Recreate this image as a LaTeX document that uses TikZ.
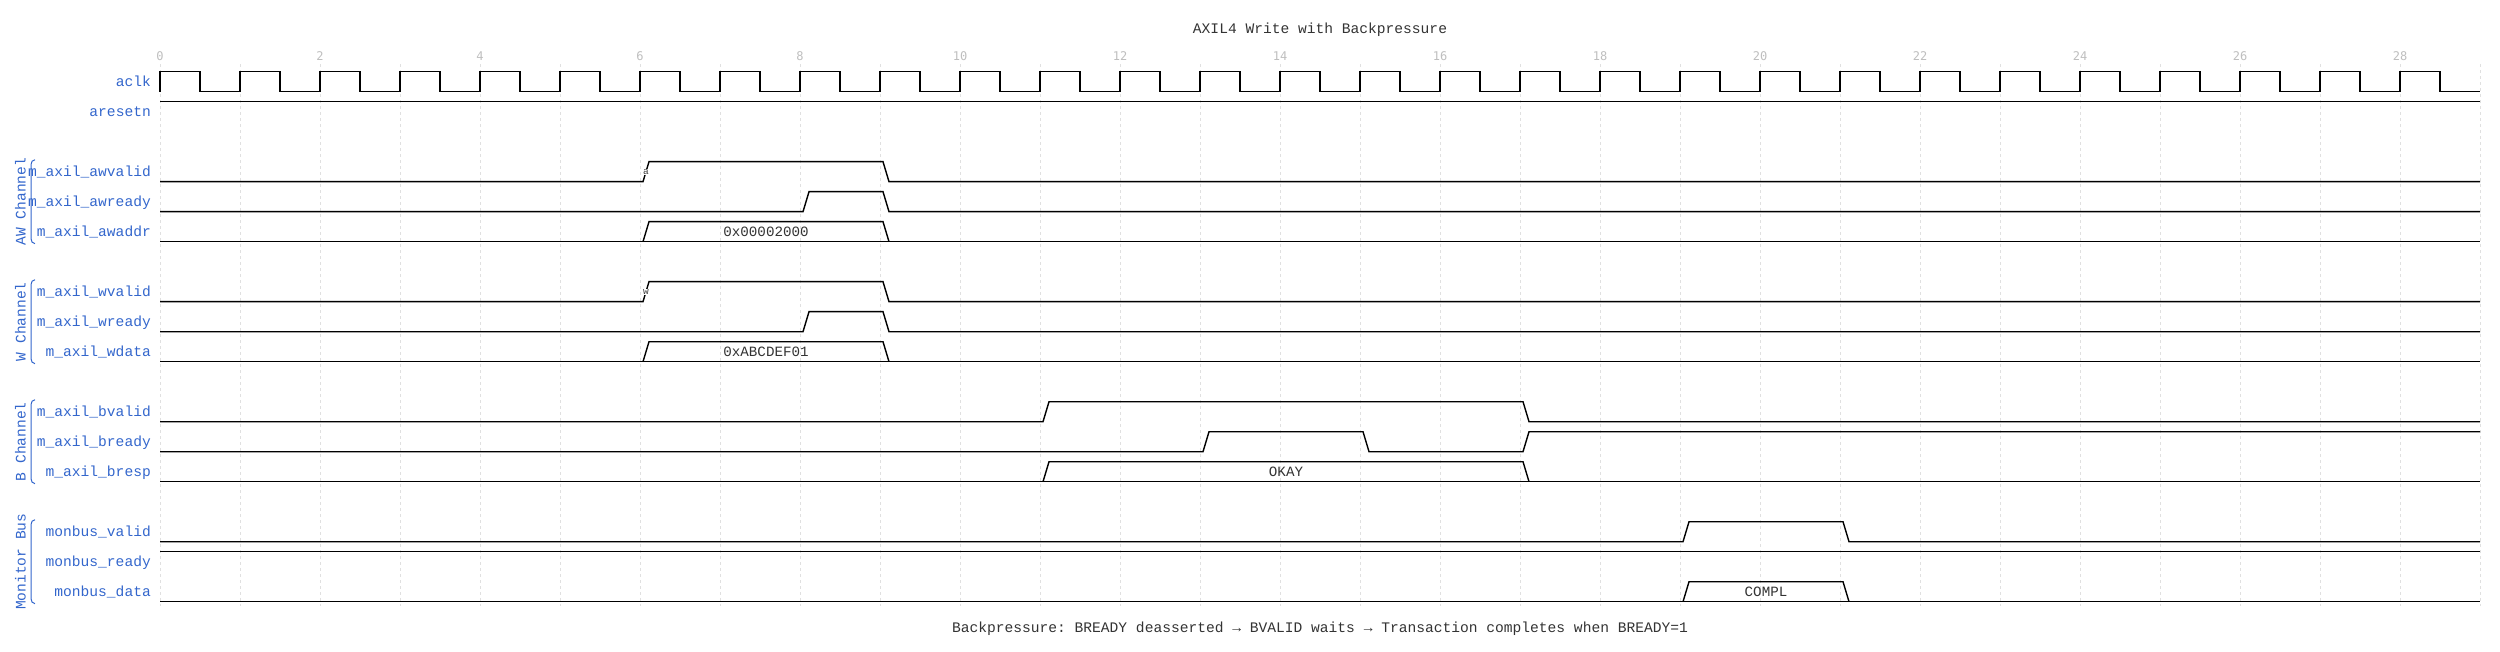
\documentclass[tikz,border=0pt]{standalone}
\usepackage{fontspec}
\setmainfont{Liberation Mono}
\setmonofont{Liberation Mono}
\newfontfamily\tickfont{DejaVu Sans Mono}
\usepackage{tikz}
\definecolor{sigblue}{RGB}{51,102,204}
\definecolor{gridgray}{RGB}{224,224,224}
\definecolor{tickgray}{RGB}{190,190,190}
\definecolor{textdark}{RGB}{51,51,51}

\begin{document}
\begin{tikzpicture}[
    x=1pt, y=-1pt,
    wave/.style={line width=1.4pt, draw=black, line join=miter},
    gridline/.style={draw=gridgray, line width=0.8pt, dash pattern=on 3pt off 3pt},
    signame/.style={anchor=base east, inner sep=0pt, text=sigblue,
      font=\fontsize{14.6}{16}\selectfont\ttfamily},
    grouplabel/.style={anchor=base, rotate=90, inner sep=0pt, text=sigblue,
      font=\fontsize{14.6}{16}\selectfont\ttfamily},
    groupbrace/.style={draw=sigblue, line width=1pt},
    ticklabel/.style={anchor=base, inner sep=0pt, text=tickgray,
      font=\fontsize{12}{12}\selectfont\tickfont},
    datalabel/.style={anchor=base, inner sep=0pt, text=textdark,
      font=\fontsize{14.2}{16}\selectfont\ttfamily},
    edgemark/.style={fill=white, inner sep=0.8pt, text=black!75,
      font=\fontsize{9.5}{10}\selectfont\ttfamily},
    caption/.style={anchor=base, inner sep=0pt, text=textdark,
      font=\fontsize{14.6}{16}\selectfont\ttfamily}
  ]
  \useasboundingbox (0,0) rectangle (2500,652);

  \node[caption] (title) at (1320,33.3) {AXIL4 Write with Backpressure};

  % time grid
  \foreach \i in {0,...,29}
    \draw[gridline] (160+80*\i,64) -- (160+80*\i,606);
  \foreach \i in {0,2,...,28}
    \node[ticklabel] (t\i) at (160+80*\i,60.7) {\i};

  % signal names
  \node[signame] (aclk)    at (151,86.7)  {aclk};
  \node[signame] (aresetn) at (151,116.7) {aresetn};
  \node[signame] (awvalid) at (151,176.7) {m\_axil\_awvalid};
  \node[signame] (awready) at (151,206.7) {m\_axil\_awready};
  \node[signame] (awaddr)  at (151,236.7) {m\_axil\_awaddr};
  \node[signame] (wvalid)  at (151,296.7) {m\_axil\_wvalid};
  \node[signame] (wready)  at (151,326.7) {m\_axil\_wready};
  \node[signame] (wdata)   at (151,356.7) {m\_axil\_wdata};
  \node[signame] (bvalid)  at (151,416.7) {m\_axil\_bvalid};
  \node[signame] (bready)  at (151,446.7) {m\_axil\_bready};
  \node[signame] (bresp)   at (151,476.7) {m\_axil\_bresp};
  \node[signame] (mvalid)  at (151,536.7) {monbus\_valid};
  \node[signame] (mready)  at (151,566.7) {monbus\_ready};
  \node[signame] (mdata)   at (151,596.7) {monbus\_data};

  % groups
  \foreach \top/\name [count=\k] in {159.7/AW Channel,279.7/W Channel,399.7/B Channel,519.7/Monitor Bus} {
    \draw[groupbrace] (35,\top) to[out=180,in=90] (31,\top+5)
      -- (31,\top+79) to[out=-90,in=180] (35,\top+84);
    \node[grouplabel] (grp\k) at (25.5,\top+42) {\name};
  }

  % aclk, aresetn
  \draw[wave] (160,91.7) \foreach \i in {0,...,28} { -- ++(0,-20) -- ++(40,0) -- ++(0,20) -- ++(40,0) };
  \draw[wave] (160,101.7) -- (2480,101.7);

  % AW channel
  \draw[wave] (160,181.7) -- (643,181.7) -- (649,161.7) -- (883,161.7) -- (889,181.7) -- (2480,181.7);
  \draw[wave] (160,211.7) -- (803,211.7) -- (809,191.7) -- (883,191.7) -- (889,211.7) -- (2480,211.7);
  \draw[wave] (160,241.7) -- (2480,241.7);
  \draw[wave] (643,241.7) -- (649,221.7) -- (883,221.7) -- (889,241.7);
  \node[datalabel] (awdat) at (766,236.7) {0x00002000};
  \node[edgemark] (ma) at (646,172) {a};

  % W channel
  \draw[wave] (160,301.7) -- (643,301.7) -- (649,281.7) -- (883,281.7) -- (889,301.7) -- (2480,301.7);
  \draw[wave] (160,331.7) -- (803,331.7) -- (809,311.7) -- (883,311.7) -- (889,331.7) -- (2480,331.7);
  \draw[wave] (160,361.7) -- (2480,361.7);
  \draw[wave] (643,361.7) -- (649,341.7) -- (883,341.7) -- (889,361.7);
  \node[datalabel] (wdat) at (766,356.7) {0xABCDEF01};
  \node[edgemark] (mw) at (646,292) {w};

  % B channel
  \draw[wave] (160,421.7) -- (1043,421.7) -- (1049,401.7) -- (1523,401.7) -- (1529,421.7) -- (2480,421.7);
  \draw[wave] (160,451.7) -- (1203,451.7) -- (1209,431.7) -- (1363,431.7) -- (1369,451.7)
    -- (1523,451.7) -- (1529,431.7) -- (2480,431.7);
  \draw[wave] (160,481.7) -- (2480,481.7);
  \draw[wave] (1043,481.7) -- (1049,461.7) -- (1523,461.7) -- (1529,481.7);
  \node[datalabel] (bdat) at (1286,476.7) {OKAY};

  % monitor bus
  \draw[wave] (160,541.7) -- (1683,541.7) -- (1689,521.7) -- (1843,521.7) -- (1849,541.7) -- (2480,541.7);
  \draw[wave] (160,551.7) -- (2480,551.7);
  \draw[wave] (160,601.7) -- (2480,601.7);
  \draw[wave] (1683,601.7) -- (1689,581.7) -- (1843,581.7) -- (1849,601.7);
  \node[datalabel] (mdat) at (1766,596.7) {COMPL};

  \node[caption] (note) at (1320,632) {Backpressure: BREADY deasserted → BVALID waits → Transaction completes when BREADY=1};
\end{tikzpicture}
\end{document}
